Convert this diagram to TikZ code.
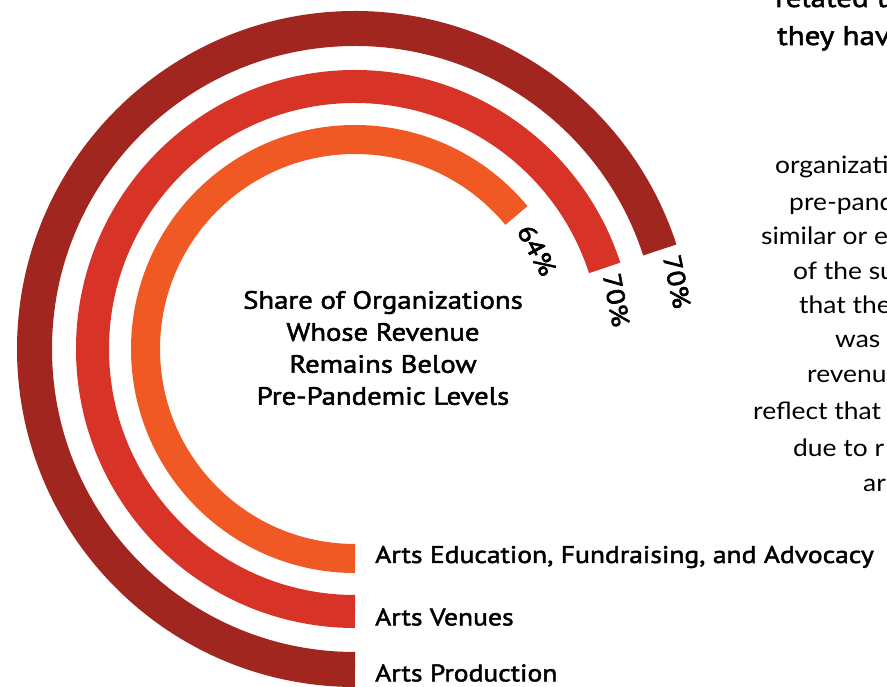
\documentclass[tikz,border=0pt]{standalone}
\usepackage{fontspec}
\newfontfamily\din{PT Sans}[FakeBold=2, FakeStretch=1.15]
\newfontfamily\dinbold{PT Sans}[FakeBold=2.6, FakeStretch=1.15]
\newfontfamily\bodyfont{Lato}[FakeStretch=1.1]
\definecolor{cOuter}{RGB}{161,38,32}
\definecolor{cMid}{RGB}{216,51,39}
\definecolor{cInner}{RGB}{240,88,36}
\begin{document}
\begin{tikzpicture}[x=1pt,y=1pt,
  band/.style={line cap=butt},
  pct/.style={font=\dinbold\fontsize{25}{25}\selectfont, inner sep=0pt},
  legend/.style={font=\din\fontsize{24}{24}\selectfont, anchor=west, inner sep=0pt},
  para/.style={font=\bodyfont\fontsize{24}{24}\selectfont, anchor=base west, inner sep=0pt},
  head/.style={font=\din\fontsize{27}{27}\selectfont, anchor=base west, inner sep=0pt}]
\useasboundingbox (0,0) rectangle (887,687);
\clip (0,0) rectangle (887,687);
\coordinate (C) at (355,338);
% arcs
\draw[band, cOuter, line width=35] ([shift={(270:320.5)}]C) arc[start angle=270, end angle=18, radius=320.5];
\draw[band, cMid, line width=33] ([shift={(270:262.5)}]C) arc[start angle=270, end angle=18, radius=262.5];
\draw[band, cInner, line width=29] ([shift={(270:209.5)}]C) arc[start angle=270, end angle=39.6, radius=209.5];
% percentage labels
\node[pct, rotate=-61.5] (pInner) at ([shift={(28.5:207)}]C) {64\%};
\node[pct, rotate=-79.4] (pMid) at ([shift={(10.6:266)}]C) {70\%};
\node[pct, rotate=-78.2] (pOuter) at ([shift={(11.8:329)}]C) {70\%};
% centre title
\node[font=\din\fontsize{25}{32}\selectfont, align=center, inner sep=0pt] (title) at (383,339)
  {Share of Organizations\\Whose Revenue\\Remains Below\\Pre-Pandemic Levels};
% legend
\node[legend] (lA) at (375,130) {Arts Education, Fundraising, and Advocacy};
\node[legend] (lB) at (375,70) {Arts Venues};
\node[legend] (lC) at (375,14) {Arts Production};
% cut-off text on the right
\node[head] (h1) at (775,680) {related t};
\node[head] (h2) at (777,642) {they hav};
\node[para] (t1) at (775,513) {organizati};
\node[para] (t2) at (789,476) {pre-pand};
\node[para] (t3) at (761,442) {similar or e};
\node[para] (t4) at (793,407) {of the su};
\node[para] (t5) at (799,373) {that the};
\node[para] (t6) at (835,339) {was};
\node[para] (t7) at (807,304) {revenu};
\node[para] (t8) at (753,267) {reflect that};
\node[para] (t9) at (793,230) {due to r};
\node[para] (t10) at (863,195) {ar};
\end{tikzpicture}
\end{document}
